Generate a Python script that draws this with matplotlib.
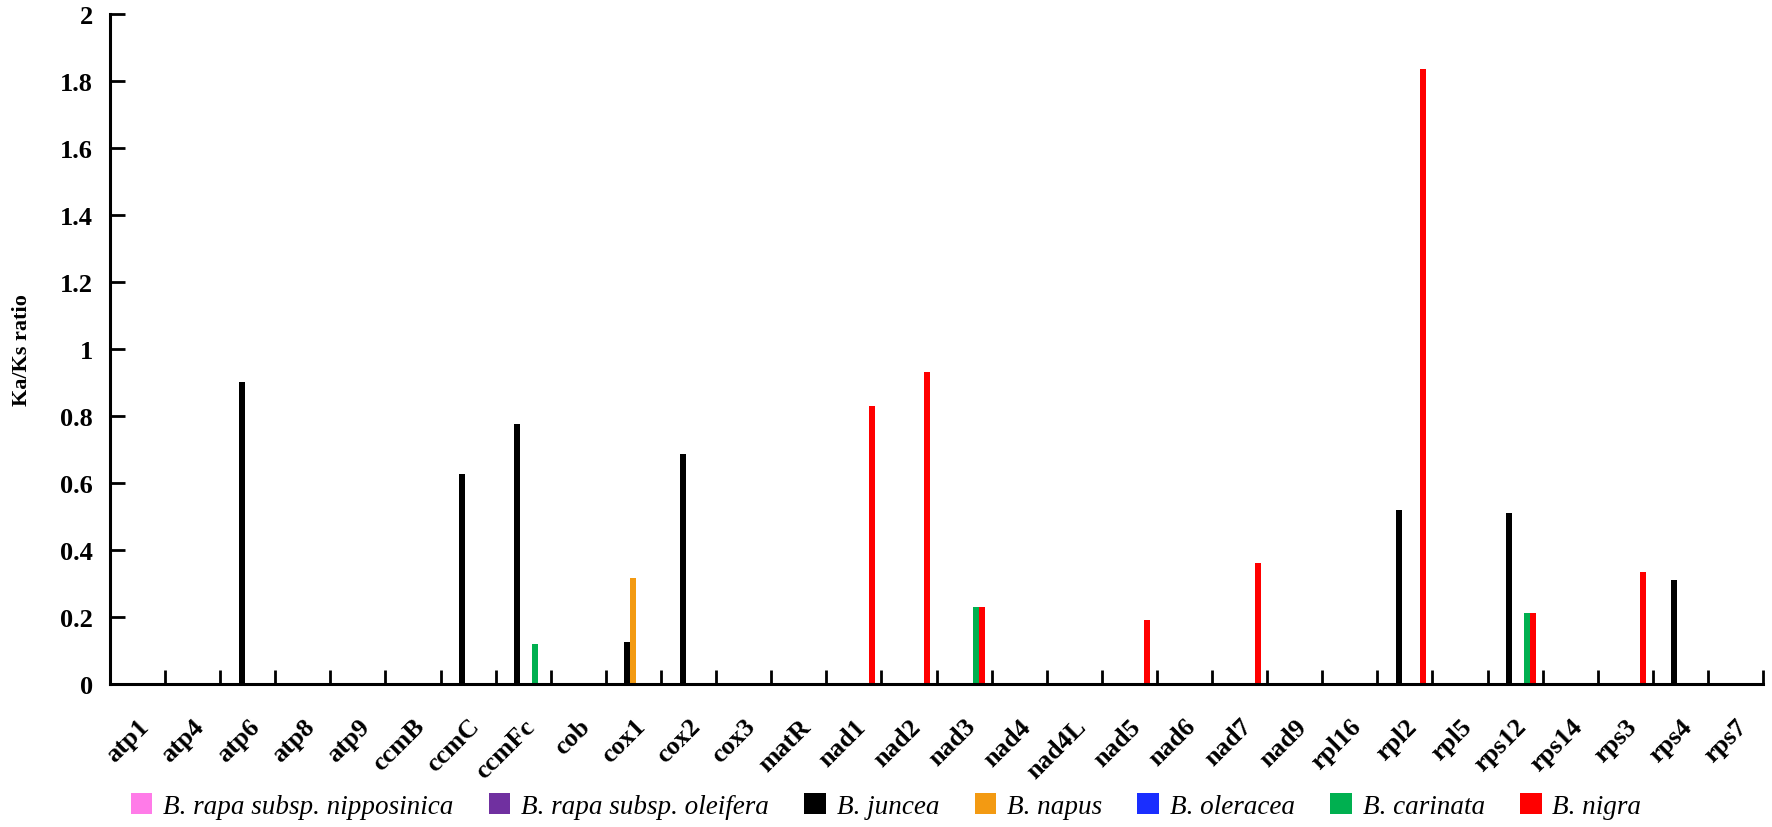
import numpy as np
import matplotlib
matplotlib.use("Agg")
import matplotlib.pyplot as plt
from matplotlib.patches import Patch

plt.rcParams["font.family"] = ["Liberation Serif", "DejaVu Serif"]

# Genes on the x axis
genes = ["atp1", "atp4", "atp6", "atp8", "atp9", "ccmB", "ccmC", "ccmFc", "cob",
         "cox1", "cox2", "cox3", "matR", "nad1", "nad2", "nad3", "nad4", "nad4L",
         "nad5", "nad6", "nad7", "nad9", "rpl16", "rpl2", "rpl5", "rps12", "rps14",
         "rps3", "rps4", "rps7"]

species = ["B. rapa subsp. nipposinica", "B. rapa subsp. oleifera", "B. juncea",
           "B. napus", "B. oleracea", "B. carinata", "B. nigra"]
colors = ["#FF7BE8", "#7030A0", "#000000", "#F39A12", "#1A2EFF", "#00B050", "#FF0000"]

# Ka/Ks ratios (0 where no bar is shown)
nipposinica = [0] * 30
oleifera = [0] * 30
juncea = [0, 0, 0.90, 0, 0, 0, 0.625, 0.775, 0, 0.125, 0.685, 0, 0, 0, 0, 0,
          0, 0, 0, 0, 0, 0, 0, 0.52, 0, 0.51, 0, 0, 0.31, 0]
napus = [0, 0, 0, 0, 0, 0, 0, 0, 0, 0.315, 0, 0, 0, 0, 0, 0,
         0, 0, 0, 0, 0, 0, 0, 0, 0, 0, 0, 0, 0, 0]
oleracea = [0] * 30
carinata = [0, 0, 0, 0, 0, 0, 0, 0.12, 0, 0, 0, 0, 0, 0, 0, 0.23,
            0, 0, 0, 0, 0, 0, 0, 0, 0, 0.21, 0, 0, 0, 0]
nigra = [0, 0, 0, 0, 0, 0, 0, 0, 0, 0, 0, 0, 0, 0.83, 0.93, 0.23,
         0, 0, 0.19, 0, 0.36, 0, 0, 1.835, 0, 0.21, 0, 0.335, 0, 0]

series = [nipposinica, oleifera, juncea, napus, oleracea, carinata, nigra]

fig = plt.figure(figsize=(17.72, 8.28), dpi=100)
ax = fig.add_axes([0.062, 0.173, 0.933, 0.809])

x = np.arange(len(genes))
w = 0.109
for i, vals in enumerate(series):
    ax.bar(x + (i - 3) * w, vals, width=w, color=colors[i], linewidth=0)

ax.set_xlim(-0.5, len(genes) - 0.5)
ax.set_ylim(0, 2)
ax.set_yticks(np.arange(0, 2.01, 0.2))
ax.set_yticklabels(["0", "0.2", "0.4", "0.6", "0.8", "1", "1.2", "1.4", "1.6", "1.8", "2"],
                   fontsize=19, fontweight="bold")

ax.set_xticks(x)
ax.set_xticklabels(genes, rotation=45, ha="right", rotation_mode="anchor",
                   fontsize=19, fontweight="bold")
ax.tick_params(axis="x", which="major", length=0, pad=22)
ax.set_xticks(np.arange(0.5, len(genes), 1), minor=True)
ax.tick_params(axis="x", which="minor", direction="in", length=10, width=2)
ax.tick_params(axis="y", direction="in", length=11, width=2, pad=12)

for side in ["top", "right"]:
    ax.spines[side].set_visible(False)
for side in ["left", "bottom"]:
    ax.spines[side].set_linewidth(2.2)

ax.set_ylabel("Ka/Ks ratio", fontsize=16, fontweight="bold")
ax.yaxis.set_label_coords(-0.047, 0.5)

handles = [Patch(facecolor=c, edgecolor="none") for c in colors]
fig.legend(handles, species, loc="center", bbox_to_anchor=(0.5, 0.025), ncol=7,
           frameon=False, prop={"family": "Liberation Serif", "style": "italic", "size": 19.5},
           handlelength=0.8, handleheight=0.8, handletextpad=0.4, columnspacing=1.3)

fig.savefig("out.png", dpi=100)
